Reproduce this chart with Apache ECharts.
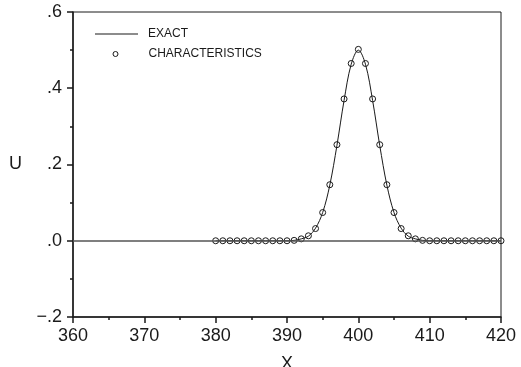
<!DOCTYPE html>
<html>
<head>
<meta charset="utf-8">
<script src="https://cdn.jsdelivr.net/npm/echarts@6/dist/echarts.min.js"></script>
<style>
  html, body { margin: 0; padding: 0; background: #fff; }
  #chart { width: 521px; height: 367px; }
</style>
</head>
<body>
<div id="chart"></div>
<script>
// Positions along X where the solution is sampled
const xValues = [380, 381, 382, 383, 384, 385, 386, 387, 388, 389, 390,
                 391, 392, 393, 394, 395, 396, 397, 398, 399, 400,
                 401, 402, 403, 404, 405, 406, 407, 408, 409, 410,
                 411, 412, 413, 414, 415, 416, 417, 418, 419, 420];

// Exact pulse
const exactU = [0, 0, 0, 0, 0, 0, 0, 0, 0, 0, 0,
                0.001, 0.005, 0.012, 0.033, 0.074, 0.146, 0.250, 0.368, 0.463, 0.500,
                0.463, 0.368, 0.250, 0.146, 0.074, 0.033, 0.012, 0.005, 0.001, 0,
                0, 0, 0, 0, 0, 0, 0, 0, 0, 0];

// Method of characteristics
const charU = [0, 0, 0, 0, 0, 0, 0, 0, 0, 0, 0,
               0.001, 0.005, 0.013, 0.032, 0.074, 0.147, 0.252, 0.372, 0.465, 0.502,
               0.465, 0.372, 0.252, 0.147, 0.074, 0.032, 0.013, 0.005, 0.001, 0,
               0, 0, 0, 0, 0, 0, 0, 0, 0, 0];

const seriesNames = ['EXACT', 'CHARACTERISTICS'];

const pair = (xs, ys) => xs.map((x, i) => [x, ys[i]]);

const yLabel = v => {
  if (Math.abs(v) < 1e-9) return '.0';
  const s = v.toFixed(1).replace('0.', '.');
  return s.replace('-', '\u2212');
};

const font = 'Liberation Sans, Arial, sans-serif';
const ink = '#1a1a1a';

const chart = echarts.init(document.getElementById('chart'), null, { renderer: 'canvas' });
chart.setOption({
  animation: false,
  backgroundColor: '#fff',
  grid: {
    left: 73, right: 20, top: 12, bottom: 50,
    outerBoundsMode: 'none',
    containLabel: false,
    show: true, borderColor: ink, borderWidth: 1, backgroundColor: 'transparent'
  },
  legend: [
    {
      left: 90, top: 23,
      itemWidth: 43, itemHeight: 1.2,
      textStyle: { fontFamily: font, fontSize: 12, color: ink, padding: [0, 0, 0, 5] },
      data: [{ name: seriesNames[0], icon: 'rect', itemStyle: { color: ink } }]
    },
    {
      left: 107.5, top: 43,
      itemWidth: 5, itemHeight: 5,
      symbolKeepAspect: false,
      textStyle: { fontFamily: font, fontSize: 12, color: ink, padding: [0, 0, 0, 25.5] },
      data: [{ name: seriesNames[1], icon: 'circle',
        itemStyle: { color: 'rgba(0,0,0,0)', borderColor: ink, borderWidth: 1 } }]
    }
  ],
  xAxis: {
    type: 'value',
    min: 360, max: 420, interval: 10,
    name: 'X', nameLocation: 'middle', nameGap: 38,
    nameTextStyle: { fontFamily: font, fontSize: 18, color: ink },
    axisLine: { onZero: false, lineStyle: { color: ink, width: 1.5 } },
    axisTick: { show: true, length: 6, lineStyle: { color: ink, width: 1.5 } },
    minorTick: { show: true, splitNumber: 2, length: 3, lineStyle: { color: ink, width: 1.5 } },
    axisLabel: { fontFamily: font, fontSize: 18, color: ink, margin: 10 },
    splitLine: { show: false }
  },
  yAxis: {
    type: 'value',
    min: -0.2, max: 0.6, interval: 0.2,
    name: 'U', nameLocation: 'middle', nameGap: 51, nameRotate: 0,
    nameTextStyle: { fontFamily: font, fontSize: 18, color: ink },
    axisLine: { onZero: false, lineStyle: { color: ink, width: 1.5 } },
    axisTick: { show: true, length: 6, lineStyle: { color: ink, width: 1.5 } },
    minorTick: { show: true, splitNumber: 2, length: 3, lineStyle: { color: ink, width: 1.5 } },
    axisLabel: { fontFamily: font, fontSize: 18, color: ink, margin: 11, formatter: yLabel },
    splitLine: { show: false }
  },
  series: [
    {
      name: seriesNames[0],
      type: 'line',
      data: pair(xValues, exactU),
      smooth: 0.35,
      showSymbol: false,
      symbol: 'none',
      lineStyle: { color: ink, width: 1 },
      itemStyle: { color: ink },
      markLine: {
        silent: true,
        symbol: ['none', 'none'],
        label: { show: false },
        lineStyle: { color: '#555', width: 1.5, type: 'solid' },
        data: [{ yAxis: 0 }]
      },
      z: 3
    },
    {
      name: seriesNames[1],
      type: 'line',
      data: pair(xValues, charU),
      lineStyle: { width: 0, opacity: 0 },
      symbol: 'circle',
      symbolSize: 6,
      showSymbol: true,
      itemStyle: { color: 'rgba(0,0,0,0)', borderColor: ink, borderWidth: 1 },
      z: 4
    }
  ]
});
</script>
</body>
</html>
